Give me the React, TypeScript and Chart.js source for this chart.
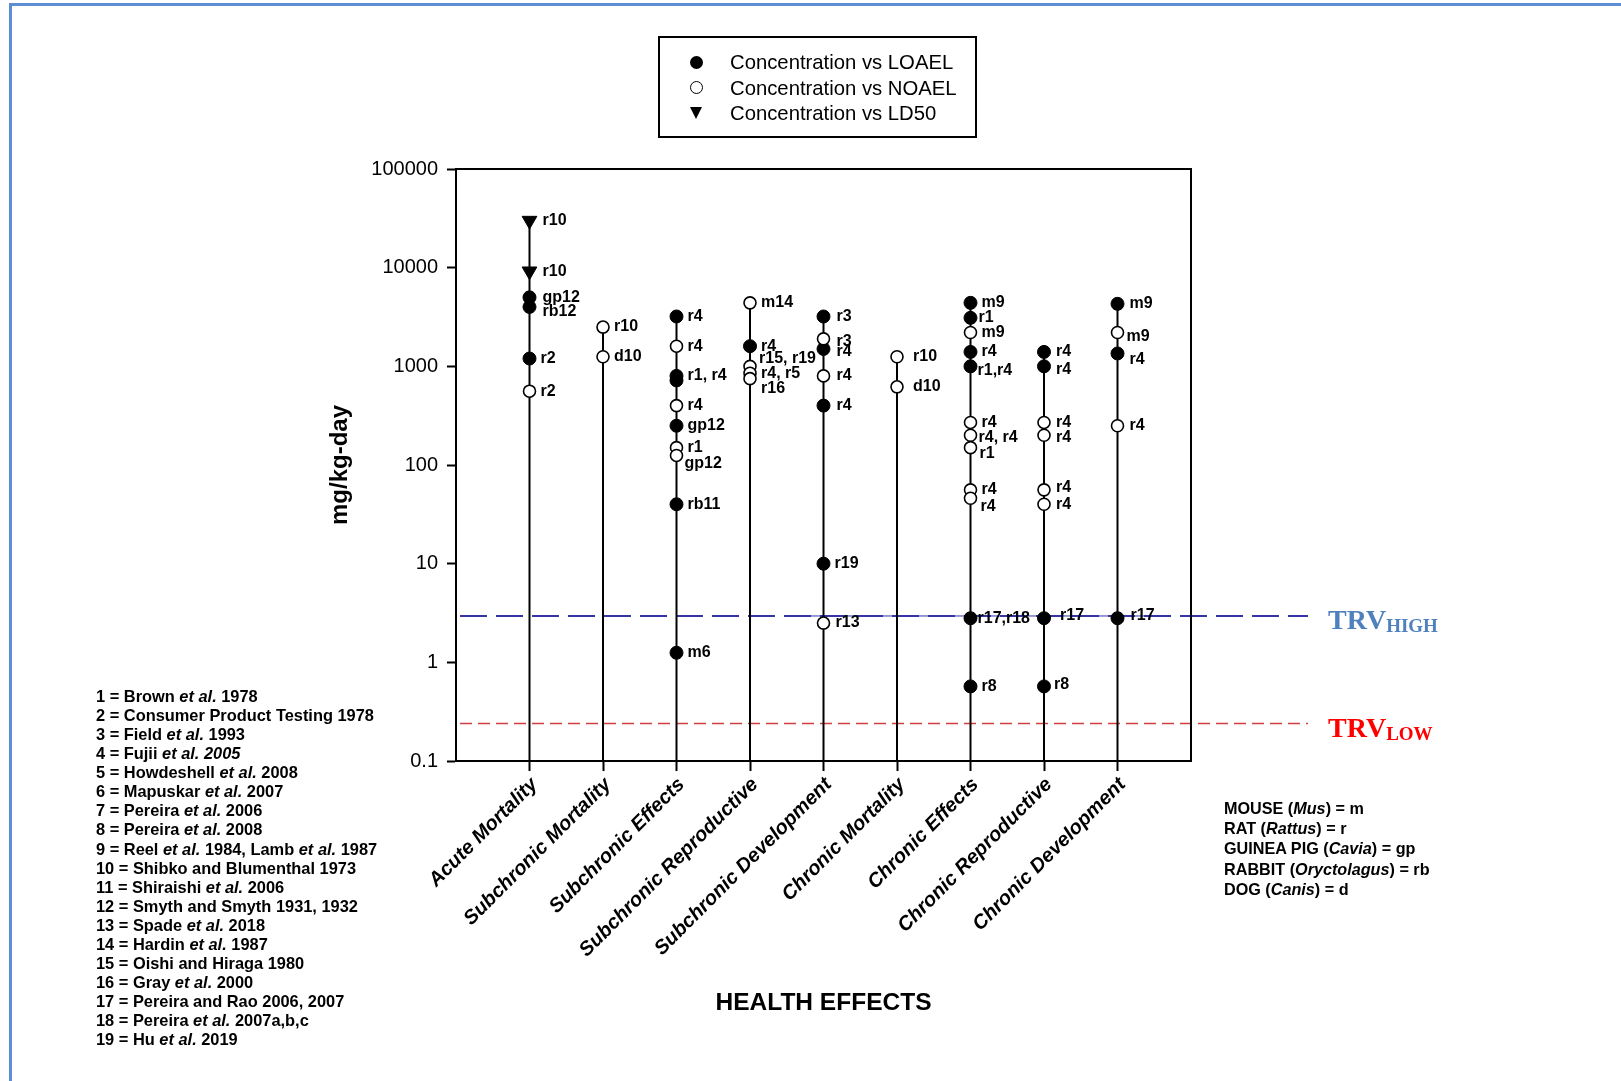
import React, { useEffect, useRef } from 'react';
import { Chart, registerables } from 'chart.js';

Chart.register(...registerables);

// ---------------- data ----------------
const categories = [
  'Acute Mortality',
  'Subchronic Mortality',
  'Subchronic Effects',
  'Subchronic Reproductive',
  'Subchronic Development',
  'Chronic Mortality',
  'Chronic Effects',
  'Chronic Reproductive',
  'Chronic Development',
];

const yTickValues = [0.1, 1, 10, 100, 1000, 10000, 100000];

// Concentration vs LOAEL (filled circles)
const loaelCategory = [0, 0, 0, 2, 2, 2, 2, 2, 2, 3, 4, 4, 4, 4, 6, 6, 6, 6, 6, 6, 7, 7, 7, 7, 8, 8, 8];
const loaelValues = [5000, 4000, 1200, 3200, 800, 720, 250, 40, 1.25, 1600, 3200, 1500, 400, 10, 4400, 3100, 1400, 1000, 2.8, 0.57, 1400, 1000, 2.8, 0.57, 4300, 1350, 2.8];
const loaelRefs = ['gp12', 'rb12', 'r2', 'r4', 'r1, r4', '', 'gp12', 'rb11', 'm6', 'r4', 'r3', 'r4', 'r4', 'r19', 'm9', 'r1', 'r4', 'r1,r4', 'r17,r18', 'r8', 'r4', 'r4', 'r17', 'r8', 'm9', 'r4', 'r17'];

// Concentration vs NOAEL (open circles)
const noaelCategory = [0, 1, 1, 2, 2, 2, 2, 3, 3, 3, 3, 4, 4, 4, 5, 5, 6, 6, 6, 6, 6, 6, 7, 7, 7, 7, 8, 8];
const noaelValues = [560, 2500, 1250, 1600, 400, 150, 125, 4400, 1000, 850, 750, 1900, 800, 2.5, 1250, 620, 2200, 270, 200, 150, 56, 46, 270, 200, 56, 40, 2200, 250];
const noaelRefs = ['r2', 'r10', 'd10', 'r4', 'r4', 'r1', 'gp12', 'm14', 'r15, r19', 'r4, r5', 'r16', 'r3', 'r4', 'r13', 'r10', 'd10', 'm9', 'r4', 'r4, r4', 'r1', 'r4', 'r4', 'r4', 'r4', 'r4', 'r4', 'm9', 'r4'];

// Concentration vs LD50 (down triangles)
const ld50Category = [0, 0];
const ld50Values = [30000, 9200];
const ld50Refs = ['r10', 'r10'];

// Toxicity reference values
const trvHigh = 2.95;
const trvLow = 0.24;

const references = [
  '1 = Brown *et al.* 1978',
  '2 = Consumer Product Testing 1978',
  '3 = Field *et al.* 1993',
  '4 = Fujii *et al. 2005*',
  '5 = Howdeshell *et al.* 2008',
  '6 = Mapuskar *et al.* 2007',
  '7 = Pereira *et al.* 2006',
  '8 = Pereira *et al.* 2008',
  '9 = Reel *et al.* 1984, Lamb *et al.* 1987',
  '10 = Shibko and Blumenthal 1973',
  '11 = Shiraishi *et al.* 2006',
  '12 = Smyth and Smyth 1931, 1932',
  '13 = Spade *et al.* 2018',
  '14 = Hardin *et al.* 1987',
  '15 = Oishi and Hiraga 1980',
  '16 = Gray *et al.* 2000',
  '17 = Pereira and Rao 2006, 2007',
  '18 = Pereira *et al.* 2007a,b,c',
  '19 = Hu *et al.* 2019',
];

const species = [
  'MOUSE (*Mus*) = m',
  'RAT (*Rattus*) = r',
  'GUINEA PIG (*Cavia*) = gp',
  'RABBIT (*Oryctolagus*) = rb',
  'DOG (*Canis*) = d',
];

const legendItems = ['Concentration vs LOAEL', 'Concentration vs NOAEL', 'Concentration vs LD50'];

// label placement tweaks (style only): key `${series}-${index}` -> [dx, dy]
const labelNudge: Record<string, [number, number]> = {
  'D-0': [13, 0], 'D-1': [13, 0],
  'L-0': [13, 0], 'L-1': [13, 5],
  'N-6': [8, 8], 'N-8': [9, -8], 'N-10': [11, 10],
  'L-10': [13, 0], 'L-11': [13, 3], 'L-12': [13, 0], 'L-13': [11, 0],
  'N-11': [13, 3], 'N-12': [13, 0], 'N-13': [12, 0],
  'N-14': [16, 0], 'N-15': [16, 0],
  'L-15': [8, 0], 'L-17': [7, 4], 'L-18': [7, 0],
  'N-18': [8, 2], 'N-19': [9, 6], 'N-21': [10, 8],
  'L-20': [12, 0], 'L-21': [12, 3], 'L-22': [16, -3], 'L-23': [10, -2],
  'N-22': [12, 0], 'N-23': [12, 2], 'N-24': [12, -2], 'N-25': [12, 0],
  'L-24': [12, 0], 'L-25': [12, 6], 'L-26': [13, -3],
  'N-26': [9, 4], 'N-27': [12, 0],
};

const FONT = '"Liberation Sans", Arial, Helvetica, sans-serif';
const SERIF = '"Liberation Serif", "Times New Roman", serif';

function renderMarkup(s: string) {
  const parts = s.split('*');
  return parts.map((p, i) => (i % 2 === 1 ? <i key={i}>{p}</i> : <span key={i}>{p}</span>));
}

const overlayPlugin = {
  id: 'overlay',
  beforeDatasetsDraw(chart: any) {
    const { ctx, chartArea } = chart;
    const xs = chart.scales.x;
    const ys = chart.scales.y;
    const extendRight = chartArea.right + 117;
    ctx.save();
    // TRV high
    const yh = ys.getPixelForValue(trvHigh);
    ctx.strokeStyle = '#3535a8';
    ctx.lineWidth = 2;
    ctx.setLineDash([27, 9]);
    ctx.beginPath();
    ctx.moveTo(chartArea.left + 4, yh);
    ctx.lineTo(extendRight, yh);
    ctx.stroke();
    ctx.setLineDash([]);
    ctx.lineWidth = 1;
    ctx.beginPath();
    ctx.moveTo(xs.getPixelForValue(5) - 13, yh);
    ctx.lineTo(xs.getPixelForValue(9) + 38, yh);
    ctx.stroke();
    // TRV low
    const yl = ys.getPixelForValue(trvLow);
    ctx.strokeStyle = '#cf3f3f';
    ctx.lineWidth = 1.5;
    ctx.setLineDash([12, 6]);
    ctx.beginPath();
    ctx.moveTo(chartArea.left + 4, yl);
    ctx.lineTo(extendRight, yl);
    ctx.stroke();
    ctx.restore();
  },
  afterDatasetsDraw(chart: any) {
    const { ctx, chartArea } = chart;
    ctx.save();
    // frame top/right
    ctx.strokeStyle = '#000';
    ctx.lineWidth = 2;
    ctx.beginPath();
    ctx.moveTo(chartArea.left, chartArea.top);
    ctx.lineTo(chartArea.right, chartArea.top);
    ctx.lineTo(chartArea.right, chartArea.bottom);
    ctx.stroke();
    // point labels
    ctx.fillStyle = '#000';
    ctx.font = `bold 16px ${FONT}`;
    ctx.textAlign = 'left';
    ctx.textBaseline = 'middle';
    chart.data.datasets.forEach((ds: any, di: number) => {
      if (!ds.refs) return;
      const meta = chart.getDatasetMeta(di);
      meta.data.forEach((el: any, i: number) => {
        const txt = ds.refs[i];
        if (!txt) return;
        const n = labelNudge[`${ds.seriesKey}-${i}`] || [11, 0];
        ctx.fillText(txt, el.x + n[0], el.y + n[1]);
      });
    });
    ctx.restore();
  },
};

export default function App() {
  const canvasRef = useRef<HTMLCanvasElement | null>(null);

  useEffect(() => {
    const canvas = canvasRef.current;
    if (!canvas) return;

    const stemDatasets = categories.map((_, ci) => {
      const vals = [
        ...loaelValues.filter((_, i) => loaelCategory[i] === ci),
        ...noaelValues.filter((_, i) => noaelCategory[i] === ci),
        ...ld50Values.filter((_, i) => ld50Category[i] === ci),
      ];
      const top = Math.max(...vals);
      return {
        label: 'stem' + ci,
        data: [
          { x: ci + 1, y: yTickValues[0] },
          { x: ci + 1, y: top },
        ],
        showLine: true,
        borderColor: '#000',
        borderWidth: 2,
        pointRadius: 0,
        order: 10,
      };
    });

    const chart = new Chart(canvas, {
      type: 'scatter',
      data: {
        datasets: [
          ...stemDatasets,
          {
            label: legendItems[0],
            seriesKey: 'L',
            refs: loaelRefs,
            data: loaelValues.map((v, i) => ({ x: loaelCategory[i] + 1, y: v })),
            pointStyle: 'circle',
            pointRadius: 6.5,
            pointBackgroundColor: '#000',
            pointBorderColor: '#000',
            pointBorderWidth: 1,
            order: 1,
          } as any,
          {
            label: legendItems[1],
            seriesKey: 'N',
            refs: noaelRefs,
            data: noaelValues.map((v, i) => ({ x: noaelCategory[i] + 1, y: v })),
            pointStyle: 'circle',
            pointRadius: 6,
            pointBackgroundColor: '#fff',
            pointBorderColor: '#000',
            pointBorderWidth: 1.6,
            order: 0,
          } as any,
          {
            label: legendItems[2],
            seriesKey: 'D',
            refs: ld50Refs,
            data: ld50Values.map((v, i) => ({ x: ld50Category[i] + 1, y: v })),
            pointStyle: 'triangle',
            rotation: 180,
            pointRotation: 180,
            pointRadius: 8.5,
            pointBackgroundColor: '#000',
            pointBorderColor: '#000',
            pointBorderWidth: 1,
            order: 0,
          } as any,
        ],
      },
      options: {
        responsive: false,
        devicePixelRatio: 1,
        animation: false,
        events: [],
        layout: { padding: { left: 0, right: 430, top: 169, bottom: 0 } },
        plugins: { legend: { display: false }, tooltip: { enabled: false } },
        scales: {
          x: {
            type: 'linear',
            min: 0,
            max: categories.length + 1,
            afterBuildTicks: (axis: any) => {
              axis.ticks = categories.map((_, i) => ({ value: i + 1 }));
            },
            afterFit: (scale: any) => {
              scale.height = 320;
            },
            grid: {
              drawOnChartArea: false,
              drawTicks: true,
              tickLength: 10,
              tickWidth: 2,
              tickColor: '#000',
            },
            border: { display: true, color: '#000', width: 2 },
            ticks: {
              autoSkip: false,
              maxRotation: 45,
              minRotation: 45,
              padding: 2,
              labelOffset: 5,
              color: '#000',
              font: { family: FONT, size: 20, style: 'italic', weight: 'bold' },
              callback: (v: any) => categories[Number(v) - 1] ?? '',
            },
            title: {
              display: true,
              text: 'HEALTH EFFECTS',
              color: '#000',
              font: { family: FONT, size: 24.5, weight: 'bold' },
              padding: { top: 0, bottom: 63 },
            },
          },
          y: {
            type: 'logarithmic',
            min: yTickValues[0],
            max: yTickValues[yTickValues.length - 1],
            afterBuildTicks: (axis: any) => {
              axis.ticks = yTickValues.map((v) => ({ value: v, major: true }));
            },
            afterFit: (scale: any) => {
              scale.width = 456;
            },
            grid: {
              drawOnChartArea: false,
              drawTicks: true,
              tickLength: 9,
              tickWidth: 2,
              tickColor: '#000',
            },
            border: { display: true, color: '#000', width: 2 },
            ticks: {
              padding: 9,
              color: '#000',
              font: { family: FONT, size: 20 },
              callback: (v: any) => String(v),
            },
            title: {
              display: true,
              text: 'mg/kg-day',
              color: '#000',
              font: { family: FONT, size: 24, weight: 'bold' },
              padding: { top: 326, bottom: 0 },
            },
          },
        },
      } as any,
      plugins: [overlayPlugin],
    });

    return () => chart.destroy();
  }, []);

  const markerBase: React.CSSProperties = { position: 'absolute', boxSizing: 'border-box' };

  return (
    <div
      style={{
        position: 'absolute',
        left: 0,
        top: 0,
        width: 1621,
        height: 1081,
        overflow: 'hidden',
        background: '#fff',
        fontFamily: FONT,
        color: '#000',
      }}
    >
      <div
        style={{
          position: 'absolute',
          left: 9,
          top: 3,
          width: 1700,
          height: 1200,
          borderLeft: '3px solid #5d8dd2',
          borderTop: '3px solid #5d8dd2',
        }}
      />
      <canvas ref={canvasRef} width={1621} height={1081} style={{ position: 'absolute', left: 0, top: 0 }} />

      {/* legend */}
      <div
        style={{
          position: 'absolute',
          left: 658,
          top: 36,
          width: 319,
          height: 102,
          border: '2px solid #000',
          boxSizing: 'border-box',
        }}
      >
        <div style={{ ...markerBase, left: 30, top: 18, width: 13, height: 13, borderRadius: '50%', background: '#000' }} />
        <div style={{ ...markerBase, left: 30, top: 43, width: 13, height: 13, borderRadius: '50%', border: '1.6px solid #000', background: '#fff' }} />
        <div
          style={{
            ...markerBase,
            left: 30,
            top: 69,
            width: 0,
            height: 0,
            borderLeft: '6.5px solid transparent',
            borderRight: '6.5px solid transparent',
            borderTop: '12px solid #000',
          }}
        />
        {legendItems.map((t, i) => (
          <div
            key={t}
            style={{
              position: 'absolute',
              left: 70,
              top: 12 + i * 25.5,
              fontSize: 20.3,
              lineHeight: '24px',
              whiteSpace: 'nowrap',
            }}
          >
            {t}
          </div>
        ))}
      </div>

      {/* references */}
      <div style={{ position: 'absolute', left: 96, top: 687, fontSize: 16.4, fontWeight: 'bold', lineHeight: '19.07px' }}>
        {references.map((r) => (
          <div key={r} style={{ whiteSpace: 'nowrap' }}>
            {renderMarkup(r)}
          </div>
        ))}
      </div>

      {/* species */}
      <div style={{ position: 'absolute', left: 1224, top: 798, fontSize: 16.2, fontWeight: 'bold', lineHeight: '20.2px' }}>
        {species.map((r) => (
          <div key={r} style={{ whiteSpace: 'nowrap' }}>
            {renderMarkup(r)}
          </div>
        ))}
      </div>

      {/* TRV labels */}
      <div
        style={{
          position: 'absolute',
          left: 1328,
          top: 606,
          fontFamily: SERIF,
          fontWeight: 'bold',
          fontSize: 28,
          lineHeight: '28px',
          color: '#4f81bd',
          whiteSpace: 'nowrap',
        }}
      >
        TRV<span style={{ fontSize: 19, position: 'relative', top: 3 }}>HIGH</span>
      </div>
      <div
        style={{
          position: 'absolute',
          left: 1328,
          top: 714,
          fontFamily: SERIF,
          fontWeight: 'bold',
          fontSize: 28,
          lineHeight: '28px',
          color: '#ff0000',
          whiteSpace: 'nowrap',
        }}
      >
        TRV<span style={{ fontSize: 19, position: 'relative', top: 3 }}>LOW</span>
      </div>
    </div>
  );
}
